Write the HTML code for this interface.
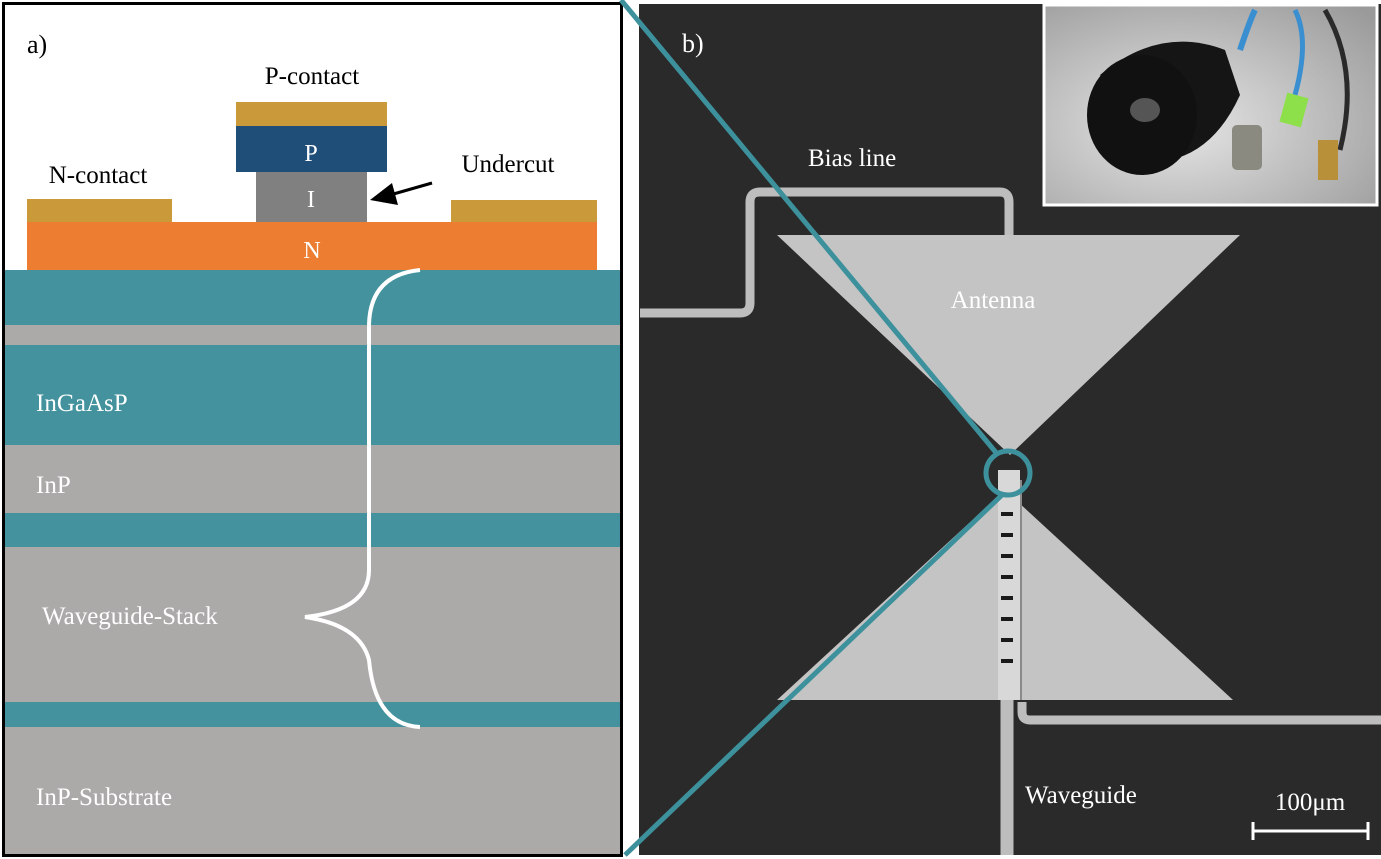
<!DOCTYPE html>
<html><head><meta charset="utf-8"><style>
html,body{margin:0;padding:0;background:#fff;}
svg{display:block;}
</style></head><body>
<svg width="1381" height="859" viewBox="0 0 1381 859" xmlns="http://www.w3.org/2000/svg" font-family="'Liberation Serif', 'DejaVu Serif', serif">
<defs>
<radialGradient id="bg" cx="0.4" cy="0.6" r="0.8"><stop offset="0" stop-color="#e6e6e6"/><stop offset="1" stop-color="#9a9a9a"/></radialGradient>
</defs>
<rect width="1381" height="859" fill="#fff"/>
<rect x="5" y="270" width="617" height="585" fill="#aca9a9"/>
<rect x="5" y="270" width="617" height="55" fill="#43929d"/>
<rect x="5" y="345" width="617" height="100" fill="#43929d"/>
<rect x="5" y="513" width="617" height="34" fill="#43929d"/>
<rect x="5" y="702" width="617" height="25" fill="#43929d"/>
<rect x="27" y="222" width="570" height="48" fill="#ec7d31"/>
<rect x="27" y="199" width="145" height="23" fill="#c9993a"/>
<rect x="451" y="200" width="146" height="22" fill="#c9993a"/>
<rect x="256" y="172" width="111" height="50" fill="#808080"/>
<rect x="236" y="126" width="151" height="46" fill="#1f4e79"/>
<rect x="236" y="102" width="151" height="24" fill="#c9993a"/>
<rect x="3.5" y="3.5" width="618" height="852" fill="none" stroke="#000" stroke-width="3"/>
<text x="27" y="53" font-size="26" fill="#000">a)</text>
<text x="312" y="84" font-size="25" fill="#000" text-anchor="middle">P-contact</text>
<text x="98" y="183" font-size="25" fill="#000" text-anchor="middle">N-contact</text>
<text x="508" y="172" font-size="25" fill="#000" text-anchor="middle">Undercut</text>
<text x="311" y="161" font-size="24" fill="#fff" text-anchor="middle">P</text>
<text x="311" y="207" font-size="24" fill="#fff" text-anchor="middle">I</text>
<text x="312" y="258" font-size="24" fill="#fff" text-anchor="middle">N</text>
<line x1="432" y1="183" x2="390" y2="195" stroke="#000" stroke-width="3"/>
<polygon points="370,200 392,183 398,205" fill="#000"/>
<text x="36" y="411" font-size="25" fill="#fff">InGaAsP</text>
<text x="36" y="493" font-size="25" fill="#fff">InP</text>
<text x="42" y="624" font-size="25" fill="#fff">Waveguide-Stack</text>
<text x="36" y="805" font-size="25" fill="#fff">InP-Substrate</text>
<path d="M420,270 Q370,275 369,325 L369,570 Q369,610 305,617 Q360,625 369,660 Q375,725 420,727" fill="none" stroke="#fff" stroke-width="4"/>
<rect x="639" y="4" width="742" height="851" fill="#2a2a2a"/>
<path d="M640,313 L740,313 Q750,313 750,303 L750,202 Q750,192 760,192 L1000,192 Q1009,192 1009,202 L1009,236" fill="none" stroke="#bdbdbd" stroke-width="9"/>
<path d="M1007,700 L1007,855" fill="none" stroke="#bdbdbd" stroke-width="13"/>
<path d="M1022,702 L1022,712 Q1022,720 1030,720 L1381,720" fill="none" stroke="#bdbdbd" stroke-width="9"/>
<polygon points="777,235 1240,235 1010,455" fill="#c4c4c4"/>
<polygon points="777,700 1233,700 1005,490" fill="#c4c4c4"/>
<rect x="998" y="470" width="22" height="230" fill="#d8d8d8"/>
<line x1="1021" y1="480" x2="1021" y2="700" stroke="#8a8a8a" stroke-width="2"/>
<g fill="#1a1a1a">
<rect x="1001" y="512" width="12" height="4"/><rect x="1001" y="533" width="12" height="4"/><rect x="1001" y="554" width="12" height="4"/><rect x="1001" y="575" width="12" height="4"/><rect x="1001" y="596" width="12" height="4"/><rect x="1001" y="617" width="12" height="4"/><rect x="1001" y="638" width="12" height="4"/><rect x="1001" y="659" width="12" height="4"/>
</g>
<text x="682" y="52" font-size="26" fill="#fff">b)</text>
<text x="808" y="166" font-size="25" fill="#fff">Bias line</text>
<text x="993" y="308" font-size="25" fill="#fff" text-anchor="middle">Antenna</text>
<text x="1025" y="803" font-size="25" fill="#fff">Waveguide</text>
<text x="1310" y="810" font-size="25" fill="#fff" text-anchor="middle">100μm</text>
<path d="M1253,822 L1253,840 M1253,831 L1368,831 M1368,822 L1368,840" stroke="#fff" stroke-width="3" fill="none"/>
<rect x="1044" y="5" width="333" height="200" fill="url(#bg)" stroke="#fff" stroke-width="3"/>
<path d="M1240,50 Q1250,20 1255,10" stroke="#3a8fd0" stroke-width="6" fill="none"/>
<path d="M1295,95 Q1310,40 1295,10" stroke="#3a8fd0" stroke-width="5" fill="none"/>
<path d="M1340,150 Q1360,70 1325,10" stroke="#2a2a2a" stroke-width="5" fill="none"/>
<rect x="1283" y="95" width="22" height="30" fill="#8de04a" transform="rotate(15 1294 110)"/>
<rect x="1232" y="125" width="30" height="45" rx="5" fill="#8a8a80"/>
<rect x="1318" y="140" width="20" height="40" fill="#b8903a"/>
<path d="M1100,75 Q1160,25 1225,50 L1240,95 Q1215,150 1170,160 Z" fill="#151515"/>
<ellipse cx="1142" cy="115" rx="55" ry="60" fill="#111"/>
<ellipse cx="1145" cy="110" rx="15" ry="12" fill="#555"/>
<line x1="621" y1="0" x2="998" y2="455" stroke="#3d919c" stroke-width="5"/>
<line x1="1002" y1="495" x2="625" y2="855" stroke="#3d919c" stroke-width="5"/>
<circle cx="1008" cy="473" r="22" fill="none" stroke="#3d919c" stroke-width="5"/>
</svg>
</body></html>
